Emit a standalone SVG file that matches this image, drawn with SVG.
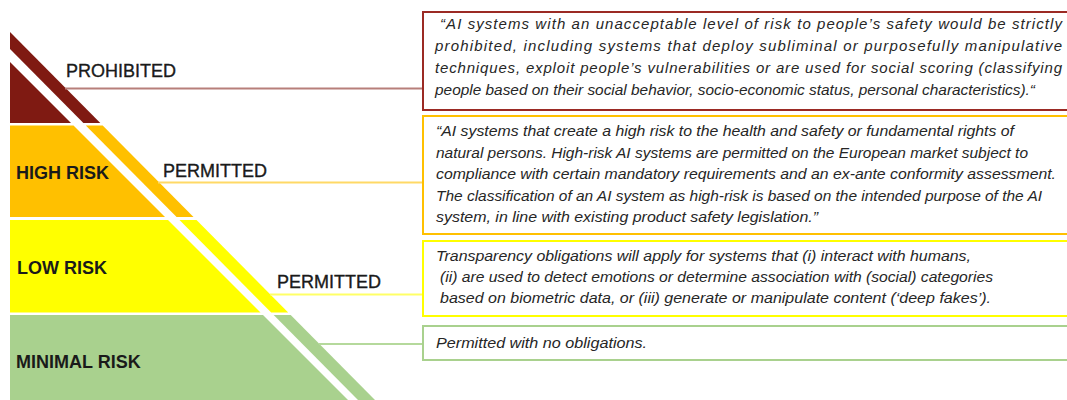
<svg xmlns="http://www.w3.org/2000/svg" width="1067" height="400" viewBox="0 0 1067 400">
<style>
.lbl{font-family:"Liberation Sans",Arial,sans-serif;font-size:18px;fill:#1a1a1a}
.m{stroke:#1a1a1a;stroke-width:0.35}
.b{font-weight:bold}
.txt{font-family:"Liberation Sans",Arial,sans-serif;font-size:15px;font-style:italic;fill:#262626}
.box{fill:#ffffff;stroke-width:2}
.conn{stroke-width:2;fill:none}
</style>
<rect width="1067" height="400" fill="#ffffff"/>

<g id="tier-prohibited">
<polygon points="10,62 71,123 10,123" fill="#7f1a12"/>
<polygon points="10,32 100.3,123 83.4,123 10,49" fill="#7f1a12"/>
<text class="lbl m" x="66" y="77">PROHIBITED</text>
</g>

<g id="tier-high">
<polygon points="10,125.5 73.5,125.5 165,217 10,217" fill="#ffc000"/>
<polygon points="85.8,125.5 102.7,125.5 193.5,217 176.6,217" fill="#ffc000"/>
<text class="lbl b" x="16" y="179">HIGH RISK</text>
<text class="lbl m" x="163" y="177">PERMITTED</text>
</g>

<g id="tier-low">
<polygon points="10,220 168,220 260.5,312.5 10,312.5" fill="#ffff00"/>
<polygon points="179.5,220 196.5,220 288.2,312.5 271.2,312.5" fill="#ffff00"/>
<text class="lbl b" x="17" y="274">LOW RISK</text>
<text class="lbl m" x="277" y="288">PERMITTED</text>
</g>

<g id="tier-minimal">
<polygon points="10,315 263,315 348,400 10,400" fill="#a9d18e"/>
<polygon points="273.7,315 290.7,315 375,400 358,400" fill="#a9d18e"/>
<text class="lbl b" x="16" y="368">MINIMAL RISK</text>
</g>

<g id="connectors">
<line class="conn" x1="65" y1="88.5" x2="423" y2="88.5" stroke="#b77f7a"/>
<line class="conn" x1="158" y1="182.5" x2="423" y2="182.5" stroke="#ffd966"/>
<line class="conn" x1="270" y1="294.5" x2="423" y2="294.5" stroke="#ffff66"/>
<line class="conn" x1="319" y1="344" x2="423" y2="344" stroke="#b5d99c"/>
</g>

<g id="box-prohibited">
<rect class="box" x="423" y="12" width="660" height="98" stroke="#9b2a24"/>
<text class="txt" x="440" y="29" textLength="622" lengthAdjust="spacing">“AI systems with an unacceptable level of risk to people’s safety would be strictly</text>
<text class="txt" x="435" y="51" textLength="627" lengthAdjust="spacing">prohibited, including systems that deploy subliminal or purposefully manipulative</text>
<text class="txt" x="435" y="73" textLength="627" lengthAdjust="spacing">techniques, exploit people’s vulnerabilities or are used for social scoring (classifying</text>
<text class="txt" x="435" y="95" textLength="600" lengthAdjust="spacingAndGlyphs">people based on their social behavior, socio-economic status, personal characteristics).“</text>
</g>

<g id="box-high">
<rect class="box" x="423" y="116" width="660" height="118" stroke="#ffc000"/>
<text class="txt" x="436" y="136" textLength="578" lengthAdjust="spacingAndGlyphs">“AI systems that create a high risk to the health and safety or fundamental rights of</text>
<text class="txt" x="436" y="157.5" textLength="592" lengthAdjust="spacingAndGlyphs">natural persons. High-risk AI systems are permitted on the European market subject to</text>
<text class="txt" x="436" y="179" textLength="620" lengthAdjust="spacingAndGlyphs">compliance with certain mandatory requirements and an ex-ante conformity assessment.</text>
<text class="txt" x="436" y="200.5" textLength="606" lengthAdjust="spacingAndGlyphs">The classification of an AI system as high-risk is based on the intended purpose of the AI</text>
<text class="txt" x="436" y="222" textLength="382" lengthAdjust="spacingAndGlyphs">system, in line with existing product safety legislation.”</text>
</g>

<g id="box-low">
<rect class="box" x="423" y="241" width="660" height="75" stroke="#ffff00"/>
<text class="txt" x="436" y="261" textLength="535" lengthAdjust="spacingAndGlyphs">Transparency obligations will apply for systems that (i) interact with humans,</text>
<text class="txt" x="440" y="282" textLength="553" lengthAdjust="spacingAndGlyphs">(ii) are used to detect emotions or determine association with (social) categories</text>
<text class="txt" x="440" y="303" textLength="551" lengthAdjust="spacingAndGlyphs">based on biometric data, or (iii) generate or manipulate content (‘deep fakes’).</text>
</g>

<g id="box-minimal">
<rect class="box" x="423" y="326" width="660" height="34" stroke="#a9d18e"/>
<text class="txt" x="436" y="348" textLength="211" lengthAdjust="spacingAndGlyphs">Permitted with no obligations.</text>
</g>
</svg>
